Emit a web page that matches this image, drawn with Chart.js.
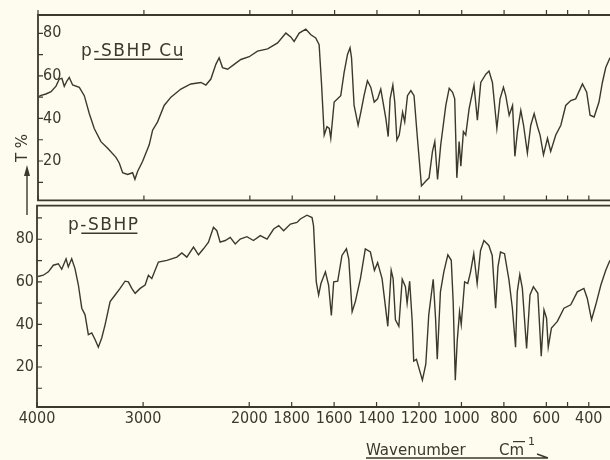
<!DOCTYPE html>
<html>
<head>
<meta charset="utf-8">
<script src="https://cdn.jsdelivr.net/npm/chart.js@4.4.1/dist/chart.umd.min.js"></script>
<style>
  html, body { margin: 0; padding: 0; background: #fdfcee; }
  #wrap { position: relative; width: 610px; height: 460px; overflow: hidden; }
  #cTop { position: absolute; left: 0; top: 0; }
  #cBot { position: absolute; left: 0; top: 193px; }
</style>
</head>
<body>
<div id="wrap">
  <canvas id="cTop" width="610" height="215"></canvas>
  <canvas id="cBot" width="610" height="267"></canvas>
</div>
<script>
// x ticks (cm-1), only some of them get a label
const XTICKS = [4000, 3000, 2000, 1800, 1600, 1400, 1200, 1000, 800, 600, 500, 400];
const XLABELS = [4000, 3000, 2000, 1800, 1600, 1400, 1200, 1000, 800, 600, 400];
const YTICKS_TOP = [10, 20, 30, 40, 50, 60, 70, 80];
const YTICKS_BOT = [10, 20, 30, 40, 50, 60, 70, 80, 90];
const YLABELS = [20, 40, 60, 80];

// p-SBHP Cu (upper trace)
const cuWavenumber = [3990, 3978, 3925, 3877, 3830, 3799, 3774, 3752, 3726, 3705, 3673, 3610, 3563, 3516, 3469, 3406, 3342, 3264, 3233, 3201,
  3154, 3107, 3085, 3059, 3012, 2950, 2918, 2871, 2809, 2745, 2651, 2557, 2462, 2415, 2368, 2321, 2290, 2258, 2210, 2148,
  2085, 2006, 1964, 1916, 1869, 1830, 1807, 1791, 1767, 1736, 1712, 1689, 1673, 1662, 1649, 1636, 1625, 1618, 1602, 1586,
  1571, 1555, 1539, 1527, 1520, 1508, 1500, 1489, 1476, 1461, 1445, 1429, 1413, 1397, 1382, 1374, 1358, 1347, 1338, 1325,
  1316, 1306, 1295, 1279, 1269, 1256, 1240, 1225, 1209, 1190, 1169, 1154, 1138, 1127, 1114, 1099, 1075, 1059, 1043, 1033,
  1023, 1012, 1004, 992, 981, 965, 942, 926, 910, 886, 871, 855, 834, 819, 803, 792, 776, 760, 749, 737,
  721, 708, 690, 674, 658, 642, 630, 614, 595, 580, 556, 532, 509, 485, 462, 430, 410, 394, 375, 352,
  336, 320, 300];
const cuTransmittance = [50.3, 50.7, 51.5, 52.6, 55.2, 58.5, 58.8, 55.1, 57.7, 59.3, 55.7, 54.6, 50.7, 42.3, 35.3, 29.1, 26, 21.7, 19.1, 14.5,
  13.7, 14.5, 11.4, 15.2, 19.9, 27.6, 34.5, 38.4, 46.1, 50, 53.8, 56.2, 56.9, 55.7, 58.5, 65.4, 68.5, 63.9, 63.1, 65.4,
  67.7, 69, 71.6, 72.7, 75.5, 80.1, 78.3, 76.2, 80.1, 82, 79.3, 77.8, 74.7, 56.9, 32.2, 36.1, 35.3, 30.7, 47.7, 49.2,
  50.7, 61.6, 70.1, 73.2, 68.5, 46.1, 42.3, 36.8, 43, 50.7, 57.7, 54.6, 47.7, 49.2, 53.8, 49.2, 39.9, 31.5, 49.2, 55.7,
  47.7, 29.9, 32.2, 43, 38.4, 50.7, 53.1, 50.7, 30.7, 8.3, 10.6, 12.1, 24.5, 29.1, 11.4, 27.6, 46.1, 54.2, 52.3, 49.2,
  12.1, 29.1, 17.6, 33.8, 32.2, 44.6, 55.7, 39.2, 56.9, 60.8, 62.3, 56.9, 35.3, 49.2, 54.6, 50.7, 41.5, 46.1, 22.2, 33.8,
  43.8, 36.8, 23.7, 36.8, 42.3, 36.1, 32.2, 22.9, 30.7, 24.5, 32.2, 36.8, 46.1, 48.4, 49.2, 56.2, 52.3, 41.5, 40.7, 47.7,
  56.9, 63.9, 68.5];

// p-SBHP (lower trace)
const ligWavenumber = [3990, 3941, 3893, 3846, 3799, 3767, 3726, 3705, 3673, 3642, 3610, 3578, 3547, 3516, 3484, 3453, 3422, 3390, 3358, 3311,
  3264, 3217, 3170, 3139, 3107, 3075, 3028, 2981, 2950, 2918, 2887, 2856, 2776, 2682, 2635, 2588, 2525, 2478, 2431, 2384,
  2337, 2305, 2274, 2226, 2179, 2132, 2085, 2022, 1980, 1948, 1916, 1885, 1861, 1838, 1806, 1775, 1759, 1728, 1704, 1697,
  1684, 1673, 1662, 1641, 1626, 1613, 1602, 1583, 1563, 1542, 1531, 1515, 1500, 1476, 1453, 1429, 1410, 1395, 1374, 1347,
  1331, 1322, 1311, 1295, 1279, 1264, 1256, 1244, 1232, 1225, 1212, 1201, 1184, 1168, 1154, 1133, 1122, 1114, 1099, 1083,
  1064, 1048, 1039, 1029, 1020, 1009, 1001, 985, 970, 957, 942, 926, 910, 894, 871, 855, 839, 828, 816, 797,
  776, 760, 745, 737, 725, 713, 693, 677, 661, 640, 624, 611, 599, 591, 576, 548, 517, 485, 454, 423,
  407, 387, 367, 343, 320, 300];
const ligTransmittance = [62.5, 63.1, 64.7, 67.8, 68.5, 65.9, 70.8, 67, 70.8, 66.2, 58.5, 47.6, 44.5, 35.2, 36, 32.9, 29.3, 33.6, 39.9, 50.7,
  53.8, 56.9, 60.3, 60, 56.9, 54.6, 56.9, 58.5, 63.1, 61.5, 65.4, 69.3, 70.1, 71.6, 73.6, 71.6, 76.3, 72.7, 75.5, 78.6,
  85.6, 84, 78.6, 79.4, 80.9, 77.8, 80.1, 81.2, 79.4, 81.7, 80.1, 84.8, 86.4, 84, 87.1, 87.9, 89.5, 91.3, 90.2, 86.4,
  60, 53.8, 59.2, 64.7, 58.5, 44.2, 60, 60.3, 72.4, 75.5, 70.8, 46, 50.7, 61.5, 75.5, 74, 65.4, 69, 61.5, 39.1,
  65.4, 61.5, 42.2, 39.1, 61.2, 57.7, 49.9, 60.3, 41.4, 22.8, 23.6, 19.7, 13.8, 21.3, 44.5, 61.2, 42.9, 23.6, 55.3, 64.7,
  72.7, 70.1, 50.7, 13.8, 32.1, 46, 39.9, 60, 59.2, 64.7, 73.2, 59.2, 74.7, 79.4, 77.1, 72.4, 47.6, 67, 74, 73.2,
  60.8, 47.6, 29.3, 55.3, 63.4, 56.9, 28.7, 53.8, 57.7, 54.6, 25.1, 46.8, 42.9, 29.3, 38.3, 41.4, 47.6, 49.2, 55.3, 56.9,
  52.2, 42.2, 49.2, 58.5, 65.4, 70.1];

const INK = '#3b392c';
const TICK_FONT = '"DejaVu Sans Condensed", "Liberation Sans Narrow", "DejaVu Sans", sans-serif';
const TEXT_FONT = '"DejaVu Sans", sans-serif';
const BOT_TOP = 193; // page offset of the lower canvas

// chart paper: 4000-2000 printed at half the scale of 2000-400
const XBREAK = 2000;
class WavenumberScale extends Chart.LinearScale {
  _unit(v) {
    return v >= XBREAK ? (this.max - v) / 2 : (this.max - XBREAK) / 2 + (XBREAK - v);
  }
  getPixelForValue(v) {
    return this.left + this.width * this._unit(v) / this._unit(this.min);
  }
  getValueForPixel(px) {
    const u = (px - this.left) / this.width * this._unit(this.min);
    const h = (this.max - XBREAK) / 2;
    return u <= h ? this.max - 2 * u : XBREAK - (u - h);
  }
}
WavenumberScale.id = 'wavenumber';
WavenumberScale.defaults = Chart.LinearScale.defaults;
Chart.register(WavenumberScale);

const pts = (xs, ys) => xs.map((x, i) => ({ x, y: ys[i] }));

function frame(opts) {
  return {
    id: 'frame',
    afterDatasetsDraw(chart) {
      const { ctx, chartArea: a, scales: { x, y } } = chart;
      ctx.save();
      ctx.strokeStyle = INK;
      ctx.lineWidth = 1.8;
      ctx.beginPath();
      ctx.moveTo(a.right, a.top); ctx.lineTo(a.left, a.top);
      ctx.lineTo(a.left, a.bottom); ctx.lineTo(a.right, a.bottom);
      ctx.stroke();
      ctx.lineWidth = 1.2;
      ctx.beginPath();
      XTICKS.forEach(v => {
        const px = x.getPixelForValue(v);
        if (opts.topTicks) { ctx.moveTo(px, a.top); ctx.lineTo(px, a.top - 5); }
        ctx.moveTo(px, a.bottom); ctx.lineTo(px, a.bottom - 5);
      });
      y.ticks.forEach(t => {
        const py = y.getPixelForValue(t.value);
        ctx.moveTo(a.left, py); ctx.lineTo(a.left + 5, py);
      });
      ctx.stroke();
      ctx.fillStyle = INK;
      ctx.strokeStyle = INK;
      opts.extra(ctx);
      ctx.restore();
    }
  };
}

function underlined(ctx, text, x, y) {
  ctx.font = '17px ' + TEXT_FONT;
  ctx.letterSpacing = '1.5px';
  ctx.textAlign = 'left';
  ctx.textBaseline = 'alphabetic';
  ctx.fillText(text, x, y);
  const start = x + ctx.measureText('p').width + 1;
  const end = x + ctx.measureText(text).width - 2;
  ctx.letterSpacing = '0px';
  ctx.fillRect(start, y + 2.5, end - start, 1.5);
}

function baseOptions(yMin, yMax, yTicks, mirror) {
  return {
    responsive: false,
    animation: false,
    events: [],
    plugins: { legend: { display: false }, tooltip: { enabled: false } },
    elements: { point: { radius: 0 }, line: { tension: 0, borderWidth: 1.4, borderColor: INK } },
    scales: {
      x: {
        type: 'wavenumber', min: 300, max: 4000,
        grid: { display: false, drawTicks: false },
        border: { display: false },
        afterBuildTicks: s => { s.ticks = XTICKS.map(value => ({ value })); },
        ticks: {
          autoSkip: false, maxRotation: 0, padding: 2, color: INK,
          font: { family: TICK_FONT, size: 16 },
          callback: v => XLABELS.includes(v) ? String(v) : ''
        }
      },
      y: {
        min: yMin, max: yMax,
        grid: { display: false, drawTicks: false },
        border: { display: false },
        afterBuildTicks: s => { s.ticks = yTicks.map(value => ({ value })); },
        ticks: {
          mirror, padding: mirror ? 5 : 3, color: INK,
          font: { family: TICK_FONT, size: 16 },
          callback: v => YLABELS.includes(v) ? String(v) : ''
        }
      }
    }
  };
}

// upper panel: p-SBHP Cu
const topOpts = baseOptions(1.5, 88.6, YTICKS_TOP, true);
topOpts.layout = { padding: { left: 38, top: 15, right: 0, bottom: 12 } };
topOpts.scales.x.display = false;
topOpts.scales.y.afterFit = s => { s.width = 0; };
new Chart(document.getElementById('cTop'), {
  type: 'line',
  data: { datasets: [{ label: 'p-SBHP Cu', data: pts(cuWavenumber, cuTransmittance) }] },
  options: topOpts,
  plugins: [frame({
    topTicks: true,
    extra(ctx) {
      underlined(ctx, 'p-SBHP Cu', 81, 56);
      // T % with arrow
      ctx.save();
      ctx.translate(23, 148);
      ctx.rotate(-Math.PI / 2);
      ctx.font = '15px ' + TEXT_FONT;
      ctx.textAlign = 'center';
      ctx.textBaseline = 'middle';
      ctx.fillText('T %', 0, 0);
      ctx.restore();
      ctx.lineWidth = 1.4;
      ctx.beginPath(); ctx.moveTo(27, 215); ctx.lineTo(27, 172); ctx.stroke();
      ctx.beginPath(); ctx.moveTo(27, 165); ctx.lineTo(24, 176); ctx.lineTo(30, 176); ctx.closePath(); ctx.fill();
    }
  })]
});

// lower panel: p-SBHP
const botOpts = baseOptions(1.2, 95.8, YTICKS_BOT, false);
botOpts.layout = { padding: { left: 0, top: 10, right: 0, bottom: 0 } };
botOpts.scales.x.afterFit = s => { s.height = 53; };
botOpts.scales.y.afterFit = s => { s.width = 37; };
new Chart(document.getElementById('cBot'), {
  type: 'line',
  data: { datasets: [{ label: 'p-SBHP', data: pts(ligWavenumber, ligTransmittance) }] },
  options: botOpts,
  plugins: [frame({
    topTicks: false,
    extra(ctx) {
      underlined(ctx, 'p-SBHP', 68, 230 - BOT_TOP);
      ctx.font = '15px ' + TEXT_FONT;
      ctx.textAlign = 'left';
      ctx.textBaseline = 'alphabetic';
      ctx.fillText('Wavenumber', 366, 455 - BOT_TOP);
      ctx.fillText('Cm', 499, 455 - BOT_TOP);
      ctx.fillRect(513, 441 - BOT_TOP, 12, 1.2);
      ctx.font = '11px ' + TEXT_FONT;
      ctx.fillText('1', 528, 445 - BOT_TOP);
      ctx.lineWidth = 1.4;
      ctx.beginPath();
      ctx.moveTo(366, 458 - BOT_TOP); ctx.lineTo(548, 458 - BOT_TOP);
      ctx.moveTo(537, 454 - BOT_TOP); ctx.lineTo(548, 458 - BOT_TOP);
      ctx.stroke();
    }
  })]
});
</script>
</body>
</html>
